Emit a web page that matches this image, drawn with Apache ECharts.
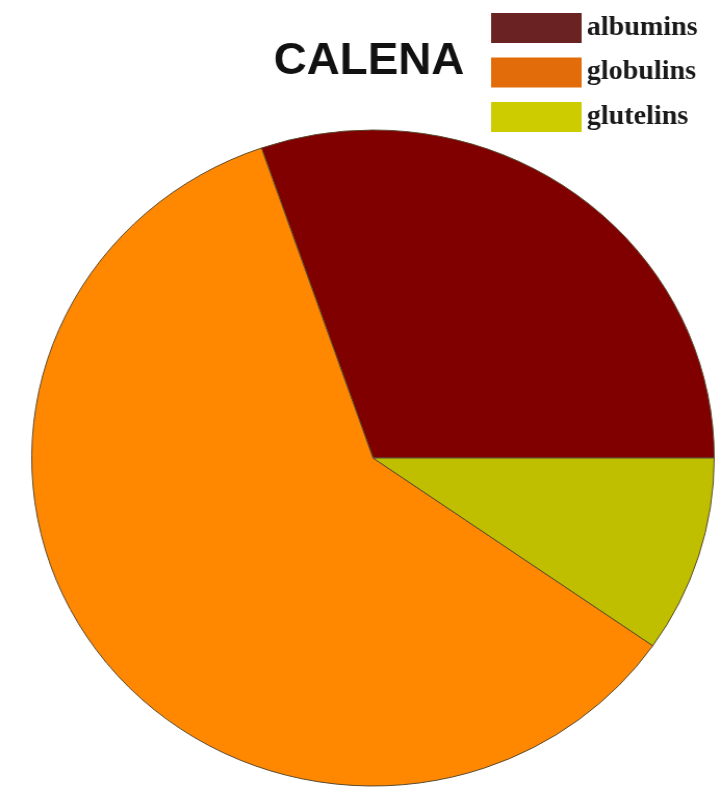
<!DOCTYPE html>
<html>
<head>
<meta charset="utf-8">
<script src="https://cdn.jsdelivr.net/npm/echarts@6/dist/echarts.min.js"></script>
<style>
  html, body { margin: 0; padding: 0; background: #fff; overflow: hidden; }
  /* the source picture is stretched a little sideways, so the pie is an ellipse */
  #chart {
    width: 694px;
    height: 802px;
    transform: scaleX(1.0404);
    transform-origin: 0 0;
  }
</style>
</head>
<body>
<div id="chart"></div>
<script>
// protein fractions (percent)
const fractions = ['albumins', 'globulins', 'glutelins']
const shares = [30.3, 60.0, 9.7]
const sliceColors = ['#800000', '#ff8800', '#bfbf00']
const legendColors = ['#6b2222', '#e36c0a', '#cccc00']

const chart = echarts.init(document.getElementById('chart'))

chart.setOption({
    animation: false,
    title: {
        text: 'CALENA',
        left: 263,
        top: 40,
        padding: 0,
        textStyle: {
            fontFamily: 'Liberation Sans, Arial, sans-serif',
            fontWeight: 'bold',
            fontSize: 44,
            color: '#111',
        },
    },
    legend: {
        orient: 'vertical',
        left: 472,
        top: 13,
        padding: 0,
        itemWidth: 87,
        itemHeight: 30,
        itemGap: 14.5,
        icon: 'rect',
        textStyle: {
            fontFamily: 'Liberation Serif, Times New Roman, serif',
            fontWeight: 'bold',
            fontSize: 27,
            color: '#1a1a1a',
        },
        data: fractions.map((name, i) => ({
            name,
            itemStyle: { color: legendColors[i], borderWidth: 0 },
        })),
    },
    series: [
        {
            type: 'pie',
            center: [358.5, 458],
            radius: 328,
            startAngle: 0,
            clockwise: false,
            label: { show: false },
            labelLine: { show: false },
            emphasis: { disabled: true },
            itemStyle: {
                borderColor: '#5a4a30',
                borderWidth: 1,
            },
            data: fractions.map((name, i) => ({
                name,
                value: shares[i],
                itemStyle: { color: sliceColors[i] },
            })),
        },
    ],
})
</script>
</body>
</html>
